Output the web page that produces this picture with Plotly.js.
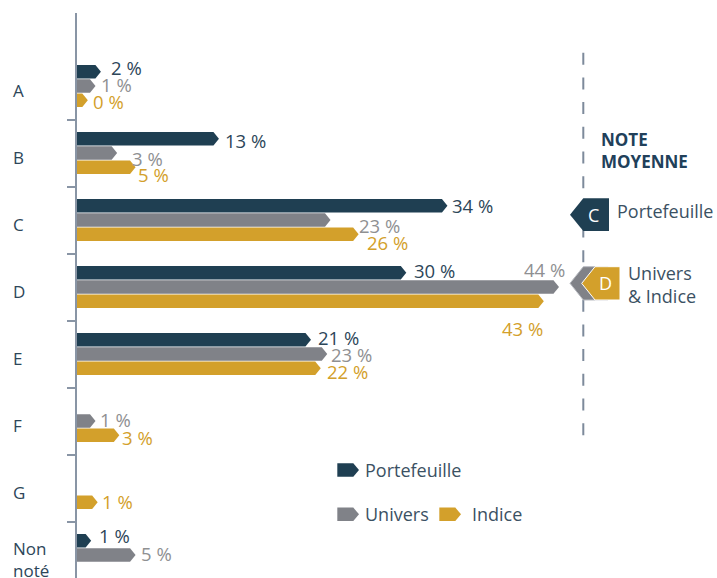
<!DOCTYPE html>
<html>
<head>
<meta charset="utf-8">
<script src="https://cdn.plot.ly/plotly-3.0.1.min.js"></script>
<style>html,body{margin:0;padding:0;background:#fff;}#chart{width:717px;height:578px;}</style>
</head>
<body>
<div id="chart"></div>
<script>
// ---------------- DATA ----------------
const categories = ['A', 'B', 'C', 'D', 'E', 'F', 'G', 'Non<br>noté'];
const seriesNames = ['Portefeuille', 'Univers', 'Indice'];
const portefeuille = [1.7, 12.6, 33.7, 29.9, 21.1, null, null, 0.8];
const univers      = [1.2, 3.2, 22.9, 44.0, 22.6, 1.2, null, 4.9];
const indice       = [0.49, 4.9, 25.5, 42.6, 22.0, 3.4, 1.4, null];
const panelTitle = 'NOTE<br>MOYENNE';
const meanPortefeuille = 'C';
const meanUniversIndice = 'D';
const panelLabelPortefeuille = 'Portefeuille';
const panelLabelUniversIndice = 'Univers<br>& Indice';

// ---------------- STYLE / GEOMETRY ----------------
const W = 717, H = 578;
const ML = 77, MT = 13, MR = 0, MB = 0;
const PW = W - ML - MR, PH = H - MT - MB;
const XMAX = 59.1;
const YRANGE = [7.343, -1.0896];
const fills = ['#1f3f52', '#808288', '#d3a02b'];
const textColors = ['#2d4659', '#8f9092', '#d3a02b'];
const slotOffset = [-0.2134, 0, 0.2134];
const halfH = 0.1007;
const tipUnits = 5.5 * XMAX / PW;
const FONT = 'Open Sans, Segoe UI, sans-serif';
const labelFont = 18.5;
// label nudges [dx px, dy px (down positive)], keyed series|category
const nudge = {
  '0|0': [8, -4.5], '1|0': [4, -2], '2|0': [3, 1],
  '0|1': [4, 2], '1|1': [13, 5], '2|1': [0, 7],
  '0|2': [3, 0], '1|2': [27, 5], '2|2': [6, 8],
  '0|3': [6, -2],
  '0|4': [5, -2.5], '1|4': [2, 0], '2|4': [4, 3],
  '1|5': [3, -1.6], '2|5': [1, 2],
  '2|6': [2, -1],
  '0|7': [6, -5], '1|7': [3, -2]
};
const special = { '1|3': {xanchor: 'right', dx: 8, dy: -17.3}, '2|3': {xanchor: 'right', dx: 1, dy: 27.5} };

const px2x = px => (px - ML) / PW;
const py2y = py => 1 - (py - MT) / PH;

const seriesData = [portefeuille, univers, indice];
const traces = [];
const annotations = [];

seriesData.forEach((vals, s) => {
  vals.forEach((v, i) => {
    if (v === null || v === undefined) return;
    const c = i + slotOffset[s];
    traces.push({
      type: 'scatter', mode: 'lines', fill: 'toself',
      x: [0, v, v + tipUnits, v, 0, 0],
      y: [c - halfH, c - halfH, c, c + halfH, c + halfH, c - halfH],
      fillcolor: fills[s], line: {width: 0, color: fills[s]},
      hoverinfo: 'skip', showlegend: false, name: seriesNames[s]
    });
    const key = s + '|' + i;
    const sp = special[key];
    const n = nudge[key] || [3, 0];
    annotations.push({
      x: v + tipUnits, y: c, xref: 'x', yref: 'y',
      text: Math.round(v) + ' %', showarrow: false,
      xanchor: sp ? sp.xanchor : 'left', yanchor: 'middle',
      xshift: sp ? sp.dx : n[0], yshift: -(sp ? sp.dy : n[1]) ,
      font: {family: FONT, size: labelFont, color: textColors[s]}
    });
  });
});

// category labels
categories.forEach((cat, i) => {
  annotations.push({
    x: px2x(11), y: i, xref: 'paper', yref: 'y', text: cat, showarrow: false,
    xanchor: 'left', yanchor: 'middle', align: 'left', yshift: -4,
    font: {family: FONT, size: 17, color: '#2d4659'}
  });
});

const shapes = [];
// dashed separator
shapes.push({type: 'line', xref: 'paper', yref: 'paper', x0: px2x(583.3), x1: px2x(583.3),
  y0: py2y(52.7), y1: py2y(437), line: {color: '#7d8a9b', width: 2, dash: '12px,12.7px'}});

function pent(x0, x1, tipX, yTop, yBot, color, lineColor) {
  const ym = (yTop + yBot) / 2;
  const p = `M ${px2x(tipX)} ${py2y(ym)} L ${px2x(x0)} ${py2y(yTop)} L ${px2x(x1)} ${py2y(yTop)} L ${px2x(x1)} ${py2y(yBot)} L ${px2x(x0)} ${py2y(yBot)} Z`;
  return {type: 'path', xref: 'paper', yref: 'paper', path: p, fillcolor: color,
    line: {width: lineColor ? 1 : 0, color: lineColor || color}, layer: 'above'};
}
function legIcon(xl, yc, color) {
  const yt = yc - 6.7, yb = yc + 6.7, xb = xl + 16, xt = xl + 21.7;
  const p = `M ${px2x(xl)} ${py2y(yt)} L ${px2x(xb)} ${py2y(yt)} L ${px2x(xt)} ${py2y(yc)} L ${px2x(xb)} ${py2y(yb)} L ${px2x(xl)} ${py2y(yb)} Z`;
  return {type: 'path', xref: 'paper', yref: 'paper', path: p, fillcolor: color, line: {width: 0}, layer: 'above'};
}
// panel markers
shapes.push(pent(583.3, 609, 570, 198.3, 231, fills[0]));
shapes.push(pent(583.3, 608, 570, 266.7, 300, fills[1], '#b9bcc2'));
shapes.push(pent(595, 620, 581.7, 266.7, 300, fills[2], '#ffffff'));
// legend icons
shapes.push(legIcon(337.3, 470, fills[0]));
shapes.push(legIcon(337.3, 514.3, fills[1]));
shapes.push(legIcon(439.3, 514.3, fills[2]));

const pa = (text, xpx, ypx, opts) => Object.assign({
  x: px2x(xpx), y: py2y(ypx), xref: 'paper', yref: 'paper', text: text, showarrow: false,
  xanchor: 'left', yanchor: 'middle', align: 'left',
  font: {family: FONT, size: 18, color: '#2d4659'}
}, opts || {});

annotations.push(pa('<b>' + panelTitle + '</b>', 598.5, 150, {font: {family: FONT, size: 17, color: '#21405a'}}));
annotations.push(pa(meanPortefeuille, 593, 214.5, {xanchor: 'center', font: {family: FONT, size: 18, color: '#ffffff'}}));
annotations.push(pa(meanUniversIndice, 605.5, 283, {xanchor: 'center', font: {family: FONT, size: 18, color: '#ffffff'}}));
annotations.push(pa(panelLabelPortefeuille, 615, 211, {font: {family: FONT, size: 18, color: '#3b5163'}}));
annotations.push(pa(panelLabelUniversIndice, 626, 284, {font: {family: FONT, size: 18, color: '#3b5163'}}));
// legend texts
annotations.push(pa(seriesNames[0], 363, 470, {font: {family: FONT, size: 18, color: '#3b5163'}}));
annotations.push(pa(seriesNames[1], 363, 514.3, {font: {family: FONT, size: 18, color: '#3b5163'}}));
annotations.push(pa(seriesNames[2], 470, 514.3, {font: {family: FONT, size: 18, color: '#3b5163'}}));

const layout = {
  width: W, height: H,
  margin: {l: ML, r: MR, t: MT, b: MB, pad: 0},
  paper_bgcolor: '#ffffff', plot_bgcolor: '#ffffff',
  showlegend: false,
  xaxis: {range: [0, XMAX], visible: false, fixedrange: true},
  yaxis: {range: YRANGE, showgrid: false, zeroline: false, showline: true, linecolor: '#8995a5', linewidth: 2,
    tickmode: 'array', tickvals: [0.5, 1.5, 2.5, 3.5, 4.5, 5.5, 6.5], ticks: 'outside', ticklen: 8,
    tickwidth: 2, tickcolor: '#8995a5', showticklabels: false, fixedrange: true},
  annotations: annotations,
  shapes: shapes
};

Plotly.newPlot('chart', traces, layout, {displayModeBar: false, staticPlot: true});
</script>
</body>
</html>
